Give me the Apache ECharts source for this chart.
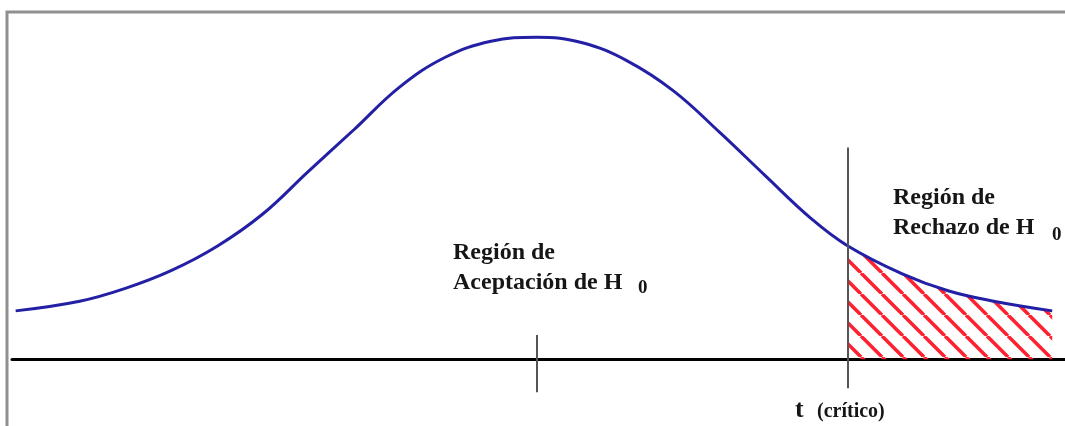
<!DOCTYPE html>
<html>
<head>
<meta charset="utf-8">
<script src="https://cdn.jsdelivr.net/npm/echarts@6/dist/echarts.min.js"></script>
<style>
  html, body { margin: 0; padding: 0; background: #fff; }
  #chart { width: 1065px; height: 426px; }
</style>
</head>
<body>
<div id="chart"></div>
<script>
// t values along the curve and the curve heights
var tValues = [-2.85, -2.50, -2.25, -2.00, -1.75, -1.50, -1.25, -1.00, -0.75, -0.50, -0.25, 0, 0.25, 0.50, 0.75, 1.00, 1.25, 1.50, 1.70, 2.00, 2.25, 2.50, 2.82];
var density = [0.060, 0.072, 0.088, 0.110, 0.140, 0.180, 0.233, 0.285, 0.338, 0.375, 0.395, 0.400, 0.393, 0.370, 0.333, 0.282, 0.228, 0.175, 0.141, 0.106, 0.085, 0.072, 0.060];
var tCritical = 1.70;
var centerTick = [0.030, -0.041];
var criticalLine = [0.263, -0.036];

var curve = tValues.map(function (t, i) { return [t, density[i]]; });
var tail = curve.filter(function (p) { return p[0] >= tCritical; });

// red diagonal hatch pattern
function hatchPattern() {
    var s = 21;
    var c = document.createElement('canvas');
    c.width = s; c.height = s;
    var g = c.getContext('2d');
    g.strokeStyle = '#ff2030';
    g.lineWidth = 3.5;
    for (var k = -1; k <= 1; k++) {
        g.beginPath();
        g.moveTo(k * s, 0);
        g.lineTo(k * s + s, s);
        g.stroke();
    }
    return c;
}

var serif = '"Liberation Serif", "Times New Roman", serif';
var txt = { fill: '#161616', font: 'bold 24px ' + serif };
var sub = { fill: '#161616', font: 'bold 19px ' + serif };

var myChart = echarts.init(document.getElementById('chart'));
myChart.setOption({
    backgroundColor: '#fff',
    animation: false,
    grid: { left: 12, right: 0, top: 13, bottom: 0 },
    xAxis: {
        type: 'value',
        min: -2.87,
        max: 2.89,
        axisLine: { show: true, onZero: true, lineStyle: { color: '#000', width: 3 } },
        axisTick: { show: false },
        axisLabel: { show: false },
        splitLine: { show: false }
    },
    yAxis: {
        type: 'value',
        min: -0.083,
        max: 0.43,
        show: false,
        splitLine: { show: false }
    },
    series: [
        {
            type: 'line',
            data: tail,
            smooth: 0.4,
            symbol: 'none',
            lineStyle: { width: 0 },
            areaStyle: { color: { image: hatchPattern(), repeat: 'repeat' }, opacity: 1 },
            silent: true
        },
        {
            type: 'line',
            data: curve,
            smooth: 0.4,
            symbol: 'none',
            lineStyle: { color: '#2320a6', width: 3 },
            silent: true,
            markLine: {
                silent: true,
                symbol: 'none',
                label: { show: false },
                lineStyle: { color: '#555', width: 2, type: 'solid' },
                data: [
                    [{ coord: [0, centerTick[0]] }, { coord: [0, centerTick[1]] }],
                    [{ coord: [tCritical, criticalLine[0]] }, { coord: [tCritical, criticalLine[1]] }]
                ]
            }
        }
    ],
    graphic: [
        {
            type: 'polyline',
            shape: { points: [[7, 426], [7, 12], [1065, 12]] },
            style: { stroke: '#8f8f8f', lineWidth: 3, fill: null },
            silent: true
        },
        { type: 'text', left: 453, top: 241, style: Object.assign({ text: 'Región de' }, txt) },
        { type: 'text', left: 453, top: 271, style: Object.assign({ text: 'Aceptación de H' }, txt) },
        { type: 'text', left: 638, top: 279, style: Object.assign({ text: '0' }, sub) },
        { type: 'text', left: 893, top: 186, style: Object.assign({ text: 'Región de' }, txt) },
        { type: 'text', left: 893, top: 216, style: Object.assign({ text: 'Rechazo de H' }, txt) },
        { type: 'text', left: 1052, top: 226, style: Object.assign({ text: '0' }, sub) },
        { type: 'text', left: 795, top: 397, style: { text: 't', fill: '#161616', font: 'bold 26px ' + serif } },
        { type: 'text', left: 817, top: 402, style: { text: '(crítico)', fill: '#161616', font: 'bold 20px ' + serif } }
    ]
});
</script>
</body>
</html>
